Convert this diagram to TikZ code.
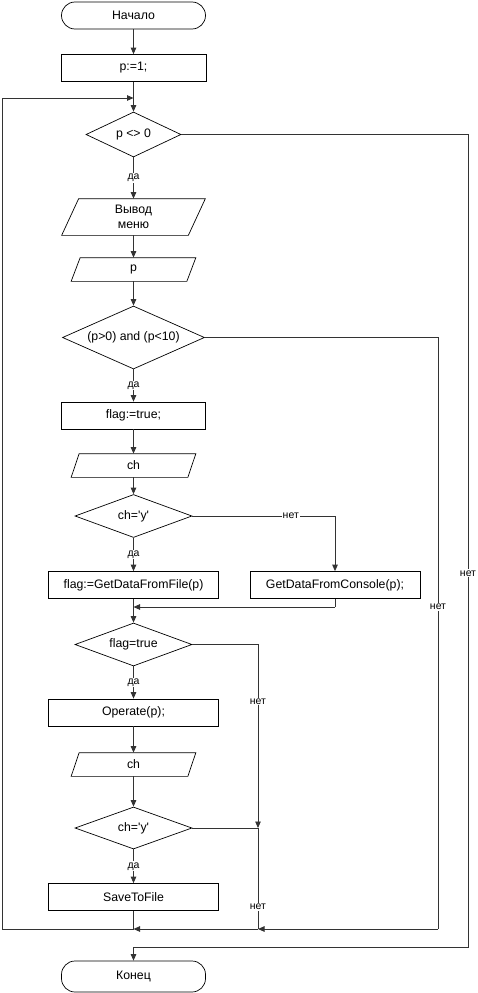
\documentclass[tikz,border=0pt]{standalone}
\usepackage{fontspec}
\setmainfont{Liberation Sans}[Ligatures=TeXOff]
\usetikzlibrary{shapes.geometric,arrows.meta}
\newcommand\ioshape[2]{\draw[shapeline] ([xshift=#2]#1.north west) -- (#1.north east) -- ([xshift=-#2]#1.south east) -- (#1.south west) -- cycle;}
\begin{document}
\begin{tikzpicture}[x=1pt,y=-1pt,
  shapeline/.style={draw=black, line width=0.7pt},
  base/.style={shapeline, fill=white, font=\fontsize{12.3}{15.5}\selectfont, inner sep=0pt, align=center},
  term/.style={base, rounded corners=13.5pt, minimum width=144pt, minimum height=#1},
  proc/.style={base, minimum width=#1, minimum height=27pt},
  dec/.style 2 args={base, diamond, aspect=2.5, minimum width=#1, minimum height=#2},
  io/.style 2 args={base, draw=none, fill=none, minimum width=#1, minimum height=#2},
  conn/.style={draw=black!80, line width=0.9pt},
  arr/.style={conn, -{Triangle[length=6.5pt,width=5.5pt]}},
  lbl/.style={font=\fontsize{10.5}{12}\selectfont, fill=white, inner sep=1pt}
]
\fill[white] (0,0) rectangle (478,993);
\useasboundingbox (0,0) rectangle (478,993);

\node[term=27pt] (start) at (133.5,15.5) {Начало};
\node[proc=145pt] (p1) at (133.5,68) {p:=1;};
\node[dec={95pt}{45pt}] (d1) at (133.5,134.5) {p <> 0};
\node[io={143pt}{36pt}] (menu) at (133.5,217) {Вывод\\меню};
\ioshape{menu}{17pt}
\node[io={124pt}{23pt}] (inp) at (133.5,269.5) {p};
\ioshape{inp}{9pt}
\node[dec={142pt}{63pt}] (d2) at (133.5,337.5) {(p>0) and (p<10)};
\node[proc=144pt] (flag1) at (133.5,415.5) {flag:=true;};
\node[io={124pt}{23pt}] (ch1) at (133.5,465.5) {ch};
\ioshape{ch1}{8pt}
\node[dec={117pt}{43pt}] (d3) at (133.5,516) {ch='y'};
\node[proc=170pt] (getF) at (133.5,585) {flag:=GetDataFromFile(p)};
\node[proc=170pt] (getC) at (335,585) {GetDataFromConsole(p);};
\node[dec={117pt}{43pt}] (d4) at (133.5,644.5) {flag=true};
\node[proc=170pt] (oper) at (133.5,712.5) {Operate(p);};
\node[io={124pt}{23pt}] (ch2) at (133.5,764.5) {ch};
\ioshape{ch2}{8pt}
\node[dec={117pt}{42pt}] (d5) at (133.5,828) {ch='y'};
\node[proc=170pt] (save) at (133.5,897) {SaveToFile};
\node[term=31pt] (fin) at (133.5,976.5) {Конец};

\coordinate (loopin) at (133.5,98);
\coordinate (mrg) at (133.5,607);
\coordinate (r3) at (335,516);
\coordinate (gc) at (335,607);
\coordinate (c4) at (258,644.5);
\coordinate (j5) at (258,828);
\coordinate (b258) at (258,929);
\coordinate (b133) at (133.5,929);
\coordinate (bL) at (2.5,929);
\coordinate (tL) at (2.5,98);
\coordinate (r2) at (438,337.5);
\coordinate (b438) at (438,929);
\coordinate (r1) at (468,134.5);
\coordinate (b468) at (468,947);
\coordinate (e133) at (133.5,947);

\draw[arr] (start) -- (p1);
\draw[arr] (p1) -- (d1);
\draw[arr] (d1) -- node[lbl]{да} (menu);
\draw[arr] (menu) -- (inp);
\draw[arr] (inp) -- (d2);
\draw[arr] (d2) -- node[lbl]{да} (flag1);
\draw[arr] (flag1) -- (ch1);
\draw[arr] (ch1) -- (d3);
\draw[arr] (d3) -- node[lbl]{да} (getF);
\draw[arr] (d3) -- node[lbl,pos=0.69]{нет} (r3) -- (getC);
\draw[conn] (getC) -- (gc);
\draw[arr] (gc) -- (mrg);
\draw[arr] (getF) -- (d4);
\draw[arr] (d4) -- node[lbl]{да} (oper);
\draw[arr] (oper) -- (ch2);
\draw[arr] (ch2) -- (d5);
\draw[arr] (d5) -- node[lbl]{да} (save);
\draw[arr] (d4) -- (c4) -- node[lbl,pos=0.31]{нет} (j5);
\draw[conn] (d5) -- (j5) -- node[lbl,pos=0.78]{нет} (b258);
\draw[conn] (save) -- (b133);
\draw[conn] (d2) -- (r2) -- node[lbl,pos=0.455]{нет} (b438);
\draw[arr] (b438) -- (b258);
\draw[arr] (b258) -- (b133);
\draw[arr] (b133) -- (bL) -- (tL) -- (loopin);
\draw[conn] (d1) -- (r1) -- node[lbl,pos=0.54]{нет} (b468) -- (e133);
\draw[arr] (e133) -- (fin);
\end{tikzpicture}
\end{document}
